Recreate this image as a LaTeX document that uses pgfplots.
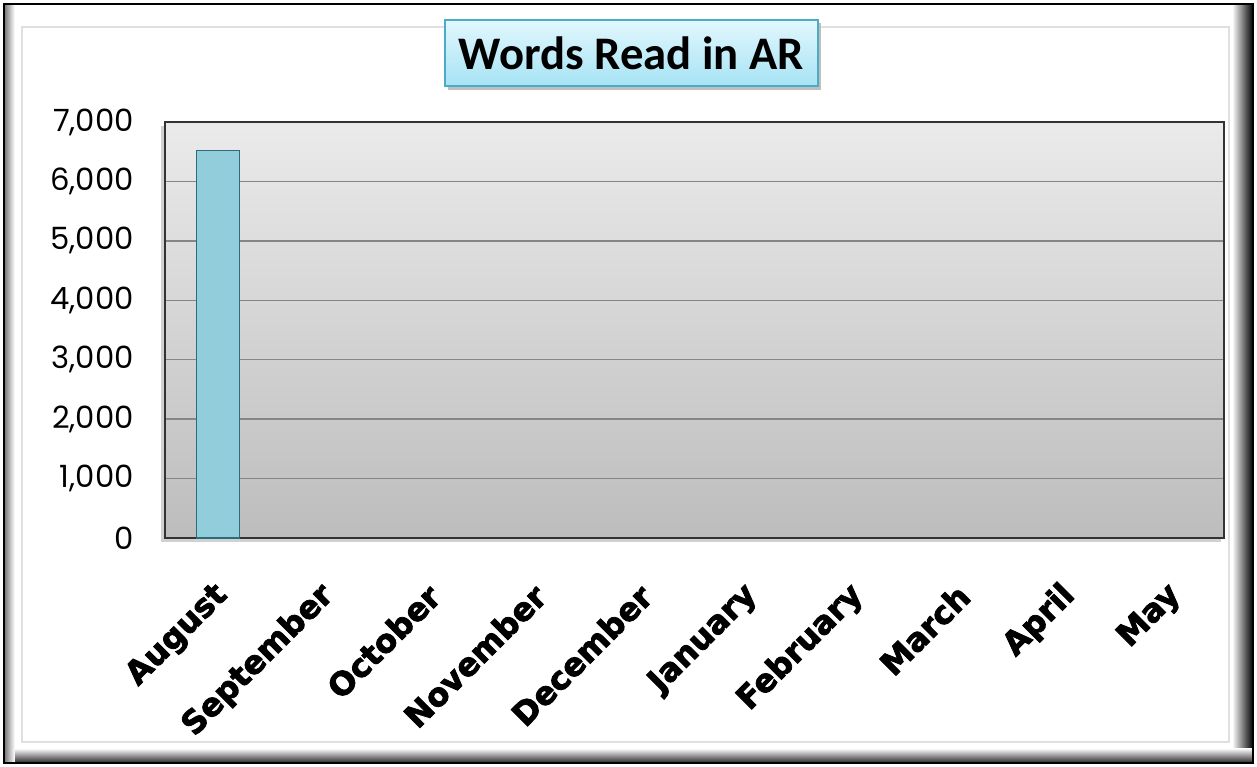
\documentclass[border=0pt]{standalone}
\usepackage{pgfplots}
\pgfplotsset{compat=1.18}
\usepackage{fontspec}
\setmainfont{Carlito}
\newfontfamily\tickfont{Poppins}
\newfontfamily\monthfont[FakeBold=2.5]{DejaVu Sans Bold}
\definecolor{barfill}{HTML}{92CDDC}
\definecolor{baredge}{HTML}{2A6C7E}
\definecolor{titletop}{HTML}{E2F7FD}
\definecolor{titlebot}{HTML}{A6E3F5}
\definecolor{titleedge}{HTML}{4BACC6}
\definecolor{gridc}{HTML}{868686}
\begin{document}
\begin{tikzpicture}
\useasboundingbox (0,0) rectangle (942.75pt,575.25pt);
\fill[white] (0,0) rectangle (942.75pt,575.25pt);
% frame shades
\shade[left color=white, right color=black] (924pt,3pt) rectangle (939.75pt,572.25pt);
\shade[top color=white, bottom color=black!85] (3pt,3pt) rectangle (939.75pt,14pt);
\shade[left color=black!55, right color=white] (3pt,3pt) rectangle (11pt,572.25pt);
\draw[black, line width=1.8pt] (3pt,3pt) rectangle (939.75pt,572.25pt);
\draw[black!12, line width=1pt] (16.5pt,18.75pt) rectangle (921.75pt,555pt);
% plot shadow
\fill[black!18] (121pt,169pt) rectangle (916pt,481pt);
\begin{axis}[
  at={(123.75pt,171.75pt)}, anchor=south west,
  scale only axis, width=794.25pt, height=312pt,
  ybar, bar width=32.25pt,
  xmin=-0.5, xmax=9.5, ymin=0, ymax=7000,
  xtick={0,...,9},
  xticklabels={August,September,October,November,December,January,February,March,April,May},
  ytick={0,1000,...,7000},
  ymajorgrids, grid style={gridc, line width=1.1pt},
  major tick length=0pt,
  axis line style={black!80, line width=1.1pt},
  axis background/.style={top color=black!8, bottom color=black!26},
  /pgf/number format/assume math mode=true,
  /pgf/number format/1000 sep={,},
  yticklabel style={font=\tickfont\fontsize{23}{26}\selectfont, anchor=east, xshift=-20pt},
  xticklabel style={font=\monthfont\fontsize{24}{28}\selectfont, xshift=6pt, yshift=-37pt, rotate=45, anchor=east},
  clip=false,
]
\addplot[fill=barfill, draw=baredge, line width=1.2pt] coordinates {(0,6520)};
\end{axis}
% title
\fill[black!25] (336pt,508pt) rectangle (616pt,558pt);
\shade[top color=titletop, bottom color=titlebot, draw=titleedge, line width=1.2pt] (333.75pt,510.75pt) rectangle (613.5pt,560.25pt);
\node[font=\bfseries\fontsize{35}{40}\selectfont] at (473.6pt,535.5pt) {Words Read in AR};
\end{tikzpicture}
\end{document}
